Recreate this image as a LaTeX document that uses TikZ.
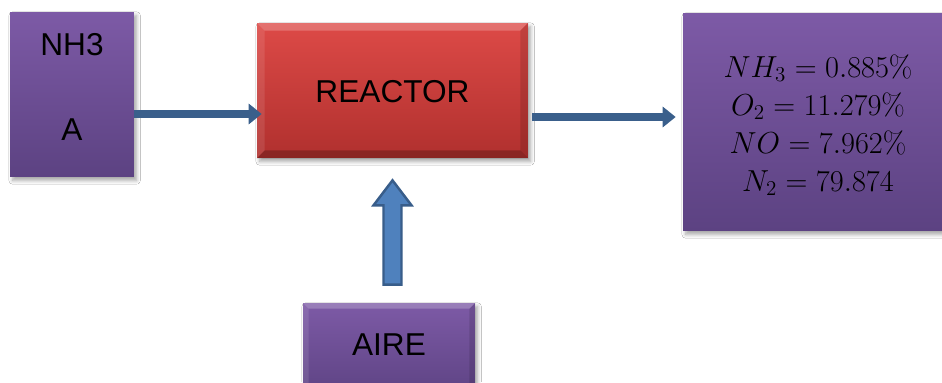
\documentclass[tikz,border=0pt]{standalone}
\usepackage[no-math]{fontspec}
\setmainfont{Liberation Sans}
\usetikzlibrary{calc,arrows.meta,shadows.blur}

\definecolor{purpleTop}{HTML}{7D5AA6}
\definecolor{purpleBot}{HTML}{5C4282}
\definecolor{redTop}{HTML}{DD4A47}
\definecolor{redBot}{HTML}{B0302E}
\definecolor{flowblue}{HTML}{3A5F8B}
\definecolor{blockblue}{HTML}{4F81BD}
\definecolor{blockedge}{HTML}{385D8A}

\tikzset{
  softshadow/.style={blur shadow={shadow xshift=1.5pt, shadow yshift=-2pt,
      shadow blur steps=6, shadow opacity=35}},
  purplebox/.style={draw=none, top color=purpleTop, bottom color=purpleBot,
      inner sep=0pt, softshadow},
  redbox/.style={draw=none, top color=redTop, bottom color=redBot,
      inner sep=0pt, softshadow},
  label/.style={font=\fontsize{18}{22}\selectfont, text=black, inner sep=0pt},
  mathlabel/.style={align=center, inner sep=0pt, text=black,
      font=\fontsize{18}{21.6}\selectfont},
  flow/.style={draw=flowblue, line width=0.16cm,
      -{Triangle[length=0.26cm,width=0.4cm]}},
  blockarrow/.style={fill=blockblue, draw=blockedge, line width=1.4pt},
}

% bevelled edges of a box: light top/left, dark bottom/right
\newcommand\bevelbox[2]{%
  \fill[white,opacity=0.22] (#1.north west) -- (#1.north east)
    -- ($(#1.north east)+(-#2,#2)$) -- ($(#1.north west)+(#2,#2)$) -- cycle;
  \fill[white,opacity=0.10] (#1.north west) -- ($(#1.north west)+(#2,#2)$)
    -- ($(#1.south west)+(#2,-#2)$) -- (#1.south west) -- cycle;
  \fill[black,opacity=0.22] (#1.south west) -- ($(#1.south west)+(#2,-#2)$)
    -- ($(#1.south east)+(-#2,-#2)$) -- (#1.south east) -- cycle;
  \fill[black,opacity=0.12] (#1.north east) -- (#1.south east)
    -- ($(#1.south east)+(-#2,-#2)$) -- ($(#1.north east)+(-#2,#2)$) -- cycle;
}

\begin{document}
\begin{tikzpicture}[x=0.02cm,y=-0.02cm]
\clip (0,0) rectangle (942,382);
\fill[white] (0,0) rectangle (942,382);

% feed box
\node[purplebox, minimum width=2.48cm, minimum height=3.3cm] (nh3) at (72,94.5) {};
\node[label] (nh3name) at (72,45) {NH3};
\node[label] (nh3tag) at (72,130) {A};

% reactor
\node[redbox, minimum width=5.42cm, minimum height=2.7cm] (reactor) at (392.5,90.5) {};
\bevelbox{reactor}{8}
\node[label] (reactorname) at (392.5,92) {REACTOR};

% outlet composition
\node[purplebox, minimum width=5.54cm, minimum height=4.36cm] (out) at (821.5,122) {};
\node[mathlabel] (comp) at (818,125)
  {$NH_3 = 0.885\%$\\ $O_2 = 11.279\%$\\ $NO = 7.962\%$\\ $N_2 = 79.874$};

% air feed
\node[purplebox, minimum width=3.44cm, minimum height=1.94cm] (aire) at (389,351.5) {};
\bevelbox{aire}{6}
\node[label] (airename) at (389,345) {AIRE};

% stream arrows
\draw[flow] ([yshift=-0.39cm]nh3.east) coordinate (s1)
  -- ([xshift=0.1cm]s1 -| reactor.west);
\draw[flow] ([xshift=0.08cm,yshift=-0.53cm]reactor.east) coordinate (s2)
  -- ([xshift=-0.14cm]s2 -| out.west);

% air inlet block arrow
\coordinate (airtip) at ($(reactor.south)+(0,22)$);
\coordinate (airtail) at ($(reactor.south |- aire.north)+(0,-18)$);
\draw[blockarrow] ($(airtail)+(-9,0)$) -- ($(airtip)+(-9,25)$) -- ($(airtip)+(-19,25)$)
  -- (airtip) -- ($(airtip)+(19,25)$) -- ($(airtip)+(9,25)$)
  -- ($(airtail)+(9,0)$) -- cycle;
\end{tikzpicture}
\end{document}
